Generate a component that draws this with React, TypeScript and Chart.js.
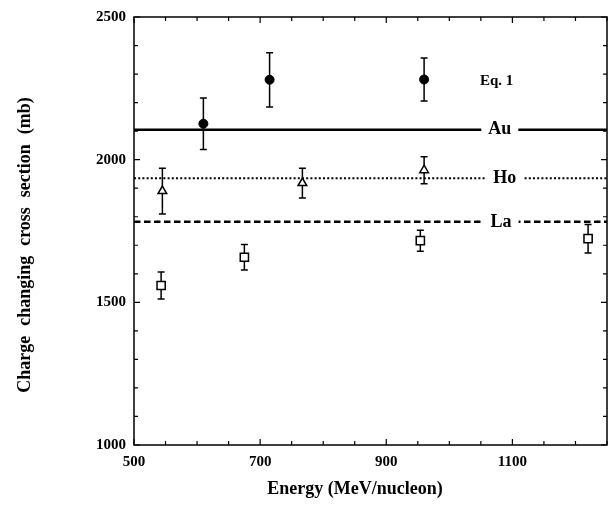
import React, { useEffect, useRef } from 'react';
import { Chart, registerables } from 'chart.js';

Chart.register(...registerables);

// ---- Data ----
const energyAu = [610, 715, 960];
const sigmaAu = [2126, 2280, 2281];
const errAu = [90, 95, 75];

const energyHo = [545, 767, 960];
const sigmaHo = [1890, 1918, 1963];
const errHo = [80, 52, 47];

const energyLa = [543, 675, 954, 1220];
const sigmaLa = [1559, 1658, 1716, 1723];
const errLa = [47, 45, 37, 50];

// Eq. 1 predictions (horizontal lines)
const eq1Au = 2105;
const eq1Ho = 1935;
const eq1La = 1782;

const lineNames = ['Au', 'Ho', 'La'];
const lineValues = [eq1Au, eq1Ho, eq1La];
const lineLabelEnergy = [1080, 1088, 1082];

const eqLabel = 'Eq. 1';
const eqLabelPos = { x: 1075, y: 2276 };

const xMin = 500;
const xMax = 1250;
const yMin = 1000;
const yMax = 2500;
const xTickLabels = ['500', '700', '900', '1100'];
const yTickLabels = ['1000', '1500', '2000', '2500'];

const xTitle = 'Energy (MeV/nucleon)';
const yTitle = 'Charge changing cross section (mb)';

const SERIF = '"Liberation Serif", "Times New Roman", "DejaVu Serif", serif';

const extrasPlugin = {
  id: 'figureExtras',
  beforeDatasetsDraw(chart: any) {
    const { ctx } = chart;
    const x = chart.scales.x;
    const y = chart.scales.y;
    ctx.save();
    ctx.strokeStyle = '#000';
    ctx.lineWidth = 1.5;
    const groups: [number[], number[], number[]][] = [
      [energyAu, sigmaAu, errAu],
      [energyHo, sigmaHo, errHo],
      [energyLa, sigmaLa, errLa],
    ];
    groups.forEach(([ex, sy, er]) => {
      ex.forEach((e, i) => {
        const px = x.getPixelForValue(e);
        const top = y.getPixelForValue(sy[i] + er[i]);
        const bot = y.getPixelForValue(sy[i] - er[i]);
        ctx.beginPath();
        ctx.moveTo(px, top);
        ctx.lineTo(px, bot);
        ctx.moveTo(px - 3.5, top);
        ctx.lineTo(px + 3.5, top);
        ctx.moveTo(px - 3.5, bot);
        ctx.lineTo(px + 3.5, bot);
        ctx.stroke();
      });
    });
    ctx.restore();
  },
  afterDatasetsDraw(chart: any) {
    const { ctx } = chart;
    const x = chart.scales.x;
    const y = chart.scales.y;
    ctx.save();
    ctx.font = `bold 18px ${SERIF}`;
    ctx.textAlign = 'center';
    ctx.textBaseline = 'middle';
    lineNames.forEach((name, i) => {
      const px = x.getPixelForValue(lineLabelEnergy[i]);
      const py = y.getPixelForValue(lineValues[i]);
      const w = ctx.measureText(name).width;
      ctx.fillStyle = '#fff';
      ctx.fillRect(px - w / 2 - 7, py - 5, w + 14, 10);
      ctx.fillStyle = '#000';
      ctx.fillText(name, px, py);
    });
    ctx.font = `bold 15px ${SERIF}`;
    ctx.fillText(eqLabel, x.getPixelForValue(eqLabelPos.x), y.getPixelForValue(eqLabelPos.y));
    ctx.restore();
  },
  afterDraw(chart: any) {
    const { ctx, chartArea } = chart;
    const { left, right, top, bottom } = chartArea;
    const x = chart.scales.x;
    const y = chart.scales.y;
    ctx.save();
    ctx.strokeStyle = '#000';
    ctx.lineWidth = 1.5;
    ctx.strokeRect(left, top, right - left, bottom - top);
    ctx.lineWidth = 1.2;
    ctx.beginPath();
    x.ticks.forEach((t: any) => {
      const px = x.getPixelForValue(t.value);
      const major = xTickLabels.includes(String(t.value));
      const len = major ? 6 : 4;
      ctx.moveTo(px, bottom);
      ctx.lineTo(px, bottom - len);
      ctx.moveTo(px, top);
      ctx.lineTo(px, top + len);
    });
    y.ticks.forEach((t: any) => {
      const py = y.getPixelForValue(t.value);
      const major = yTickLabels.includes(String(t.value));
      const len = major ? 6 : 4;
      ctx.moveTo(left, py);
      ctx.lineTo(left + len, py);
      ctx.moveTo(right, py);
      ctx.lineTo(right - len, py);
    });
    ctx.stroke();

    // axis titles
    ctx.fillStyle = '#000';
    ctx.font = `bold 18px ${SERIF}`;
    ctx.textAlign = 'center';
    ctx.textBaseline = 'middle';
    ctx.fillText(xTitle, 355, 489);
    ctx.save();
    (ctx as any).wordSpacing = '5.5px';
    ctx.translate(25, 245);
    ctx.rotate(-Math.PI / 2);
    ctx.fillText(yTitle, 0, 0);
    ctx.restore();
    ctx.restore();
  },
};

export default function App() {
  const canvasRef = useRef<HTMLCanvasElement | null>(null);

  useEffect(() => {
    if (!canvasRef.current) return;
    const tickFont = { family: SERIF, weight: 'bold' as const, size: 15 };
    const chart = new Chart(canvasRef.current, {
      type: 'scatter',
      data: {
        datasets: [
          {
            label: 'Au data',
            data: energyAu.map((e, i) => ({ x: e, y: sigmaAu[i] })),
            pointStyle: 'circle',
            pointRadius: 4.5,
            pointBackgroundColor: '#000',
            pointBorderColor: '#000',
            pointBorderWidth: 1,
            order: 1,
          },
          {
            label: 'Ho data',
            data: energyHo.map((e, i) => ({ x: e, y: sigmaHo[i] })),
            pointStyle: 'triangle',
            pointRadius: 5,
            pointBackgroundColor: '#fff',
            pointBorderColor: '#000',
            pointBorderWidth: 1.5,
            order: 1,
          },
          {
            label: 'La data',
            data: energyLa.map((e, i) => ({ x: e, y: sigmaLa[i] })),
            pointStyle: 'rect',
            pointRadius: 5.8,
            pointBackgroundColor: '#fff',
            pointBorderColor: '#000',
            pointBorderWidth: 1.5,
            order: 1,
          },
          {
            label: 'Au Eq.1',
            data: [{ x: xMin, y: eq1Au }, { x: xMax, y: eq1Au }],
            showLine: true,
            borderColor: '#000',
            borderWidth: 2.6,
            pointRadius: 0,
            order: 3,
          },
          {
            label: 'Ho Eq.1',
            data: [{ x: xMin, y: eq1Ho }, { x: xMax, y: eq1Ho }],
            showLine: true,
            borderColor: '#000',
            borderWidth: 2,
            borderDash: [2, 2.2],
            pointRadius: 0,
            order: 3,
          },
          {
            label: 'La Eq.1',
            data: [{ x: xMin, y: eq1La }, { x: xMax, y: eq1La }],
            showLine: true,
            borderColor: '#000',
            borderWidth: 2.5,
            borderDash: [6.5, 3.5],
            pointRadius: 0,
            order: 3,
          },
        ],
      },
      options: {
        responsive: false,
        animation: false,
        devicePixelRatio: 1,
        events: [],
        layout: { autoPadding: false, padding: { top: 17, right: 1, left: 0, bottom: 0 } },
        plugins: {
          legend: { display: false },
          tooltip: { enabled: false },
        },
        scales: {
          x: {
            type: 'linear',
            min: xMin,
            max: xMax,
            grid: { display: false, drawTicks: false },
            border: { display: false },
            ticks: {
              stepSize: 50,
              autoSkip: false,
              maxRotation: 0,
              minRotation: 0,
              padding: 8,
              color: '#000',
              font: tickFont,
              callback: (v: any) => (xTickLabels.includes(String(v)) ? String(v) : ''),
            },
            afterFit: (scale: any) => {
              scale.height = 86;
              scale.paddingLeft = 0;
              scale.paddingRight = 0;
            },
          },
          y: {
            type: 'linear',
            min: yMin,
            max: yMax,
            grid: { display: false, drawTicks: false },
            border: { display: false },
            ticks: {
              stepSize: 100,
              autoSkip: false,
              padding: 8,
              color: '#000',
              font: tickFont,
              callback: (v: any) => (yTickLabels.includes(String(v)) ? String(v) : ''),
            },
            afterFit: (scale: any) => {
              scale.width = 134;
              scale.paddingTop = 0;
              scale.paddingBottom = 0;
            },
          },
        },
      },
      plugins: [extrasPlugin],
    });
    return () => chart.destroy();
  }, []);

  return (
    <div style={{ position: 'absolute', left: 0, top: 0, width: 608, height: 531, background: '#fff' }}>
      <canvas ref={canvasRef} width={608} height={531} style={{ display: 'block' }} />
    </div>
  );
}
